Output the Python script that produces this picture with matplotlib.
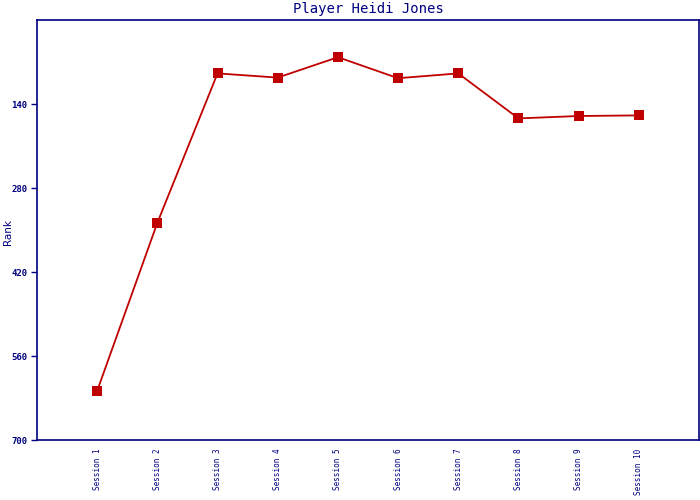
import matplotlib
matplotlib.use("Agg")
import matplotlib.pyplot as plt

sessions = ["Session 1", "Session 2", "Session 3", "Session 4", "Session 5",
            "Session 6", "Session 7", "Session 8", "Session 9", "Session 10"]
ranks = [618, 338, 89, 96, 62, 97, 89, 164, 160, 159]
yticks = [140, 280, 420, 560, 700]

navy = "#000080"
red = "#C00000"

fig = plt.figure(figsize=(7, 5), dpi=100)
ax = fig.add_axes([37/700, 60/500, 662/700, 420/500])
x = list(range(len(sessions)))
ax.plot(x, ranks, color=red, lw=1.3, marker="s", markersize=7, markeredgewidth=0)

ax.set_xlim(-1, 10)
ax.set_ylim(700, 0)
ax.set_yticks(yticks)
ax.set_yticklabels([str(v) for v in yticks], family="DejaVu Sans Mono", fontsize=6.5,
                   color=navy, fontweight="bold")
ax.set_xticks(x)
ax.set_xticklabels(sessions, rotation=90, family="DejaVu Sans Mono", fontsize=5.5,
                   color=navy)
ax.tick_params(axis="x", length=0, pad=6)
ax.tick_params(axis="y", length=4, width=1, color=navy, direction="out", pad=3)
for s in ax.spines.values():
    s.set_color(navy)
    s.set_linewidth(1.2)
ax.set_title("Player Heidi Jones", family="DejaVu Sans Mono", fontsize=10,
             color=navy, pad=5)
fig.text(8/700, 1 - 232/500, "Rank", color=navy, fontsize=7.5, rotation=90,
         ha="center", va="center")
fig.savefig("out.png", dpi=100)
